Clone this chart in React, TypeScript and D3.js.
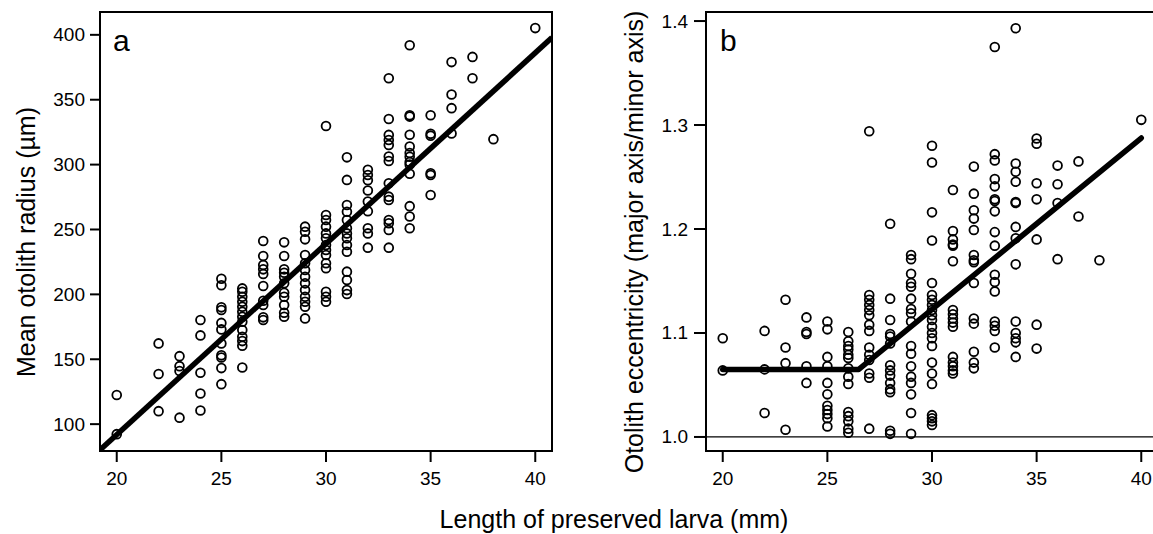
import React from "react";
import * as d3 from "d3";

// ---- Data ----
const lengthsA = [20, 22, 23, 24, 25, 26, 27, 28, 29, 30, 31, 32, 33, 34, 35, 36, 37, 38, 40];
const radiusA: number[][] = [
  [122.4, 92.3],
  [162.2, 138.6, 110],
  [152.4, 144.7, 141, 105],
  [180.2, 168.4, 139.6, 123.6, 110.5],
  [212, 207, 190, 188, 178, 173, 162.2, 153, 151.4, 143.2, 130.8],
  [204.6, 202, 198.2, 194.3, 190.5, 186.6, 182.7, 178.9, 172.5, 167.3, 164, 160.4, 143.7],
  [241.1, 229.6, 222.6, 219.3, 215.7, 206.4, 195.1, 191.8, 182.3, 180.2],
  [240.1, 229.6, 219.3, 216.7, 213.6, 208.5, 201.3, 198.2, 191.8, 185.8, 182.7],
  [252.2, 248.3, 242.4, 230.3, 224, 218.8, 213.6, 208.5, 203.3, 198.2, 194.3, 190.5, 181.5],
  [329.8, 261.2, 257.3, 252.2, 247, 243.2, 238, 234.2, 230.3, 224, 220.1, 202, 198.2, 194.3],
  [305.6, 288.2, 268.9, 263.7, 257.3, 250.9, 247, 243.2, 238, 232.9, 217.5, 211, 203.3, 200.3],
  [296, 292, 288, 280, 271.5, 264, 251, 247, 236],
  [366.6, 335.2, 322.9, 319, 315.2, 306.2, 302.8, 285.6, 275.3, 272.7, 257.3, 254.8, 249.6, 236],
  [392, 338, 337, 323, 314, 309, 306, 302, 300, 293, 268, 260, 251],
  [338, 323.7, 322.3, 293.3, 292, 276.6],
  [379, 354, 343.5, 324],
  [383, 366.6],
  [319.6],
  [405.2],
];

const lengthsB = [20, 22, 23, 24, 25, 26, 27, 28, 29, 30, 31, 32, 33, 34, 35, 36, 37, 38, 40];
const eccB: number[][] = [
  [1.095, 1.064],
  [1.102, 1.065, 1.023],
  [1.132, 1.086, 1.071, 1.007],
  [1.115, 1.101, 1.099, 1.068, 1.052],
  [1.111, 1.1035, 1.077, 1.068, 1.052, 1.041, 1.03, 1.026, 1.022, 1.018, 1.01],
  [1.101, 1.092, 1.0875, 1.084, 1.079, 1.076, 1.066, 1.058, 1.051, 1.024, 1.02, 1.015, 1.008, 1.004],
  [1.294, 1.1365, 1.132, 1.127, 1.122, 1.117, 1.108, 1.102, 1.086, 1.079, 1.074, 1.061, 1.057, 1.008],
  [1.205, 1.133, 1.1125, 1.099, 1.0965, 1.09, 1.069, 1.064, 1.059, 1.052, 1.046, 1.043, 1.006, 1.003],
  [1.175, 1.171, 1.157, 1.148, 1.1445, 1.133, 1.123, 1.119, 1.111, 1.0875, 1.08, 1.068, 1.058, 1.052, 1.041, 1.023, 1.003],
  [1.28, 1.264, 1.216, 1.189, 1.148, 1.1365, 1.132, 1.127, 1.122, 1.117, 1.1125, 1.106, 1.1, 1.095, 1.0875, 1.0715, 1.061, 1.051, 1.021, 1.018, 1.015, 1.0115],
  [1.2375, 1.198, 1.19, 1.185, 1.184, 1.169, 1.122, 1.118, 1.114, 1.11, 1.106, 1.077, 1.0715, 1.068, 1.064, 1.061],
  [1.26, 1.234, 1.218, 1.21, 1.199, 1.175, 1.17, 1.168, 1.148, 1.114, 1.109, 1.082, 1.0715, 1.066],
  [1.375, 1.272, 1.266, 1.248, 1.241, 1.2285, 1.227, 1.217, 1.197, 1.184, 1.156, 1.149, 1.14, 1.111, 1.107, 1.102, 1.086],
  [1.393, 1.263, 1.255, 1.2455, 1.226, 1.225, 1.202, 1.191, 1.166, 1.111, 1.1, 1.095, 1.091, 1.077],
  [1.287, 1.282, 1.244, 1.2285, 1.19, 1.108, 1.085],
  [1.261, 1.243, 1.225, 1.171],
  [1.265, 1.212],
  [1.17],
  [1.305],
];

// fitted lines
const fitA = { intercept: -202.3, slope: 14.71 };
const fitBx = [20, 26.5, 40];
const fitBy = [1.065, 1.065, 1.2875];

const xTicks = [20, 25, 30, 35, 40];
const yTicksA = [100, 150, 200, 250, 300, 350, 400];
const yTicksB = [1.0, 1.1, 1.2, 1.3, 1.4];

const FONT = "'Liberation Sans', Arial, Helvetica, sans-serif";

export default function App() {
  const top = 12, bottom = 451;
  const xA = d3.scaleLinear().domain([19.2, 40.8]).range([100, 552]);
  const yA = d3.scaleLinear().domain([79.3, 417.6]).range([bottom, top]);
  const xB = d3.scaleLinear().domain([19.2, 40.8]).range([706, 1158]);
  const yB = d3.scaleLinear().domain([0.9865, 1.4087]).range([bottom, top]);

  const ptsA: [number, number][] = [];
  lengthsA.forEach((l, i) => radiusA[i].forEach((v) => ptsA.push([l, v])));
  const ptsB: [number, number][] = [];
  lengthsB.forEach((l, i) => eccB[i].forEach((v) => ptsB.push([l, v])));

  const lineA = d3.line<number>()
    .x((d) => xA(d))
    .y((d) => yA(fitA.intercept + fitA.slope * d))(xA.domain());
  const lineB = d3.line<number>()
    .x((d) => xB(d))
    .y((_, i) => yB(fitBy[i]))(fitBx);

  const tick = 11;
  const cr = 4.4, cw = 1.8;
  return (
    <svg width={1153} height={534} style={{ position: "absolute", left: 0, top: 0, background: "#fff" }} fontFamily={FONT}>
      <defs>
        <clipPath id="clipA"><rect x={xA.range()[0]} y={top} width={xA.range()[1] - xA.range()[0]} height={bottom - top} /></clipPath>
        <clipPath id="clipB"><rect x={xB.range()[0]} y={top} width={xB.range()[1] - xB.range()[0]} height={bottom - top} /></clipPath>
      </defs>

      {/* Panel a */}
      <g>
        {ptsA.map((p, i) => (
          <circle key={i} cx={xA(p[0])} cy={yA(p[1])} r={cr} fill="none" stroke="#000" strokeWidth={cw} />
        ))}
        <path d={lineA || ""} stroke="#000" strokeWidth={5.5} fill="none" clipPath="url(#clipA)" />
        <rect x={xA.range()[0]} y={top} width={xA.range()[1] - xA.range()[0]} height={bottom - top} fill="none" stroke="#000" strokeWidth={2} />
        {xTicks.map((t) => (
          <g key={t}>
            <line x1={xA(t)} x2={xA(t)} y1={bottom} y2={bottom + tick} stroke="#000" strokeWidth={2} />
            <text x={xA(t)} y={485} textAnchor="middle" fontSize={19}>{t}</text>
          </g>
        ))}
        {yTicksA.map((t) => (
          <g key={t}>
            <line x1={xA.range()[0] - tick + 1} x2={xA.range()[0]} y1={yA(t)} y2={yA(t)} stroke="#000" strokeWidth={2} />
            <text x={85} y={yA(t) + 6.5} textAnchor="end" fontSize={19}>{t}</text>
          </g>
        ))}
        <text x={113} y={51} fontSize={30}>a</text>
        <text transform={`translate(35,242) rotate(-90)`} textAnchor="middle" fontSize={25}>Mean otolith radius (µm)</text>
      </g>

      {/* Panel b */}
      <g>
        <line x1={xB.range()[0]} x2={xB.range()[1]} y1={yB(1.0)} y2={yB(1.0)} stroke="#000" strokeWidth={1.3} />
        {ptsB.map((p, i) => (
          <circle key={i} cx={xB(p[0])} cy={yB(p[1])} r={cr} fill="none" stroke="#000" strokeWidth={cw} />
        ))}
        <path d={lineB || ""} stroke="#000" strokeWidth={5.5} fill="none" strokeLinecap="round" strokeLinejoin="round" clipPath="url(#clipB)" />
        <rect x={xB.range()[0]} y={top} width={xB.range()[1] - xB.range()[0]} height={bottom - top} fill="none" stroke="#000" strokeWidth={2} />
        {xTicks.map((t) => (
          <g key={t}>
            <line x1={xB(t)} x2={xB(t)} y1={bottom} y2={bottom + tick} stroke="#000" strokeWidth={2} />
            <text x={xB(t)} y={485} textAnchor="middle" fontSize={19}>{t}</text>
          </g>
        ))}
        {yTicksB.map((t) => (
          <g key={t}>
            <line x1={xB.range()[0] - tick - 1} x2={xB.range()[0]} y1={yB(t)} y2={yB(t)} stroke="#000" strokeWidth={2} />
            <text x={688} y={yB(t) + 6.5} textAnchor="end" fontSize={19}>{t.toFixed(1)}</text>
          </g>
        ))}
        <text x={720} y={51} fontSize={30}>b</text>
        <text transform={`translate(643,242) rotate(-90)`} textAnchor="middle" fontSize={25}>Otolith eccentricity (major axis/minor axis)</text>
      </g>

      <text x={614} y={528} textAnchor="middle" fontSize={25}>Length of preserved larva (mm)</text>
    </svg>
  );
}
